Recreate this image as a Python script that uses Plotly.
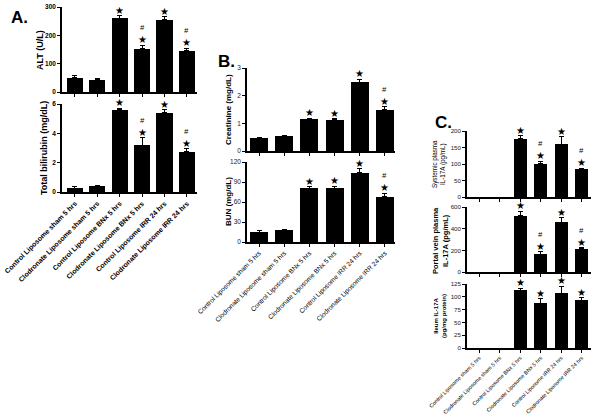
import plotly.graph_objects as go

groups = ["Control Liposome sham 5 hrs", "Clodronate Liposome sham 5 hrs",
          "Control Liposome BNx 5 hrs", "Clodronate Liposome BNx 5 hrs",
          "Control Liposome IRR 24 hrs", "Clodronate Liposome IRR 24 hrs"]

alt = [50, 43, 260, 152, 255, 146]
alt_err = [7, 3, 10, 13, 10, 8]
bili = [0.25, 0.42, 5.6, 3.2, 5.4, 2.75]
bili_err = [0.1, 0.05, 0.1, 0.5, 0.2, 0.2]
creat = [0.48, 0.55, 1.17, 1.13, 2.48, 1.5]
creat_err = [0.01, 0.02, 0.02, 0.03, 0.12, 0.1]
bun = [15, 18, 81, 81, 104, 68]
bun_err = [3, 1, 2, 3, 6, 5]
sys_il17 = [0, 0, 176, 101, 160, 84]
sys_err = [0, 0, 10, 7, 23, 3]
portal_il17 = [0, 0, 520, 165, 460, 215]
portal_err = [0, 0, 40, 20, 40, 8]
ileum_il17 = [0, 0, 113, 87, 107, 93]
ileum_err = [0, 0, 4, 9, 14, 5]

W, H = 600, 418


def fx(px):
    return min(1.0, max(0.0, px / W))


def fy(py):
    return min(1.0, max(0.0, 1 - py / H))


panels = [
    dict(v=alt, e=alt_err, px=(62, 197), py=(7, 92), yr=[0, 300], dt=100, st=[2, 3, 4, 5], hs=[3, 5], xr=[-0.58, 5.45], bw=0.72, lab=False),
    dict(v=bili, e=bili_err, px=(62, 197), py=(104, 192), yr=[0, 6], dt=2, st=[2, 3, 4, 5], hs=[3, 5], xr=[-0.58, 5.45], bw=0.72, lab=True),
    dict(v=creat, e=creat_err, px=(247, 395), py=(68, 151), yr=[0, 3], dt=1, st=[2, 3, 4, 5], hs=[5], xr=[-0.48, 5.4], bw=0.72, lab=False),
    dict(v=bun, e=bun_err, px=(247, 395), py=(162, 242), yr=[0, 120], dt=30, st=[2, 3, 4, 5], hs=[5], xr=[-0.48, 5.4], bw=0.72, lab=True),
    dict(v=sys_il17, e=sys_err, px=(467, 591), py=(131, 197), yr=[0, 200], dt=50, st=[2, 3, 4, 5], hs=[3, 5], xr=[-0.6, 5.45], bw=0.65, lab=False),
    dict(v=portal_il17, e=portal_err, px=(467, 591), py=(207, 272), yr=[0, 600], dt=200, st=[2, 3, 4, 5], hs=[3, 5], xr=[-0.6, 5.45], bw=0.65, lab=False),
    dict(v=ileum_il17, e=ileum_err, px=(467, 591), py=(284, 348), yr=[0, 125], dt=25, st=[2, 3, 4, 5], hs=[], xr=[-0.6, 5.45], bw=0.65, lab=True),
]
label_fonts = [None, dict(size=7, family="Liberation Sans", color="black", weight="bold"), None,
               dict(size=6.6, family="Liberation Sans", color="black"), None, None,
               dict(size=5.4, family="Liberation Sans", color="black")]
tick_fonts = [dict(size=6.5, family="Liberation Sans", color="black", weight="bold")] * 2 + \
             [dict(size=6.5, family="Liberation Sans", color="#222")] * 2 + \
             [dict(size=6.2, family="Liberation Sans", color="#222")] * 3

fig = go.Figure()
annotations = []
xs = list(range(6))
for k, p in enumerate(panels):
    n = k + 1
    xa = "x" if n == 1 else f"x{n}"
    ya = "y" if n == 1 else f"y{n}"
    fig.add_trace(go.Bar(
        x=xs, y=p["v"], xaxis=xa, yaxis=ya, width=p["bw"],
        marker=dict(color="black", line=dict(width=0)),
        error_y=dict(type="data", array=p["e"], arrayminus=[0] * 6, symmetric=False,
                     color="black", thickness=1, width=2.5, visible=True),
        showlegend=False, hoverinfo="y"))
    x0, x1 = p["px"]
    y0, y1 = p["py"]
    layout_x = dict(domain=[fx(x0), fx(x1)], range=p["xr"], anchor=ya,
                    tickmode="array", tickvals=xs,
                    ticktext=groups if p["lab"] else [""] * 6,
                    tickangle=-45 if p["lab"] else 0,
                    showline=True, linecolor="black", linewidth=1.5,
                    ticks="outside", ticklen=3, tickwidth=1, tickcolor="black",
                    showgrid=False, zeroline=False, fixedrange=True, automargin=False,
                    ticklabeloverflow="allow")
    if p["lab"]:
        layout_x["tickfont"] = label_fonts[k]
    layout_y = dict(domain=[fy(y1), fy(y0)], range=p["yr"], anchor=xa,
                    dtick=p["dt"], tick0=0,
                    showline=True, linecolor="black", linewidth=1.5,
                    ticks="outside", ticklen=3, tickwidth=1, tickcolor="black",
                    showgrid=False, zeroline=False, tickfont=tick_fonts[k], automargin=False,
                    ticklabeloverflow="allow")
    fig.update_layout(**{("xaxis" if n == 1 else f"xaxis{n}"): layout_x,
                         ("yaxis" if n == 1 else f"yaxis{n}"): layout_y})
    for i in p["st"]:
        top = p["v"][i] + p["e"][i]
        annotations.append(dict(x=i, y=top, xref=xa, yref=ya, text="★", showarrow=False,
                                yanchor="bottom", yshift=-2,
                                font=dict(size=10, color="black", family="DejaVu Sans")))
        if i in p["hs"]:
            annotations.append(dict(x=i, y=top, xref=xa, yref=ya, text="<i>#</i>", showarrow=False,
                                    yanchor="bottom", yshift=11,
                                    font=dict(size=7.5, color="black", family="Liberation Sans")))

ytitles = [
    ("ALT (U/L)", 40, 50, dict(size=9, weight="bold")),
    ("Total bilirubin (mg/dL)", 44, 148, dict(size=9, weight="bold")),
    ("Creatinine (mg/dL)", 229, 110, dict(size=8, weight="bold")),
    ("BUN (mg/dL)", 228, 202, dict(size=8, weight="bold")),
    ("Systemic plasma<br>IL-17A (pg/mL)", 439, 164, dict(size=6.3)),
    ("Portal vein plasma<br>IL-17A (pg/mL)", 440, 240, dict(size=7.5, weight="bold")),
    ("Ileum IL-17A<br>(pg/mg protein)", 440, 316, dict(size=6, weight="bold")),
]
for t, cx, cy, f in ytitles:
    f = dict(f, color="black", family="Liberation Sans")
    annotations.append(dict(x=fx(cx), y=fy(cy), xref="paper", yref="paper", text=t,
                            textangle=-90, showarrow=False, xanchor="center", yanchor="middle",
                            font=f))

for t, cx, cy in [("A.", 19, 17), ("B.", 226, 61), ("C.", 443, 123)]:
    annotations.append(dict(x=fx(cx), y=fy(cy), xref="paper", yref="paper", text=t,
                            showarrow=False, xanchor="center", yanchor="middle",
                            font=dict(size=17, color="black", family="Liberation Sans", weight="bold")))

fig.update_layout(width=W, height=H, margin=dict(l=0, r=0, t=0, b=0, autoexpand=False),
                  paper_bgcolor="white", plot_bgcolor="white", bargap=0,
                  annotations=annotations, showlegend=False)

fig.write_html("out.html", config={"displayModeBar": False},
               post_script="document.body.style.margin='0';document.body.style.overflow='hidden';")
